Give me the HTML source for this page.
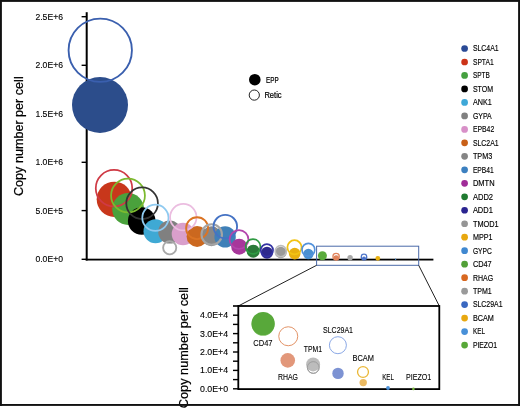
<!DOCTYPE html>
<html><head><meta charset="utf-8"><title>Copy number per cell</title>
<style>html,body{margin:0;padding:0;background:#fff;}svg{display:block;}text{font-family:"Liberation Sans", sans-serif;fill:#000;stroke:#000;stroke-width:0.22px;}</style>
</head><body>
<svg width="520" height="408" viewBox="0 0 520 408">
<rect x="0" y="0" width="520" height="408" fill="#fff"/>
<rect x="85.7" y="12.2" width="2" height="248.3" fill="#000"/>
<rect x="85.7" y="258.7" width="347.7" height="1.8" fill="#000"/>
<rect x="81.6" y="16.00" width="5" height="1.4" fill="#000"/>
<text x="35.40" y="19.70" font-size="9.20" text-anchor="start" textLength="27.6" lengthAdjust="spacingAndGlyphs" style="stroke-width:0.12px">2.5E+6</text>
<rect x="81.6" y="64.60" width="5" height="1.4" fill="#000"/>
<text x="35.40" y="68.30" font-size="9.20" text-anchor="start" textLength="27.6" lengthAdjust="spacingAndGlyphs" style="stroke-width:0.12px">2.0E+6</text>
<rect x="81.6" y="113.10" width="5" height="1.4" fill="#000"/>
<text x="35.40" y="116.80" font-size="9.20" text-anchor="start" textLength="27.6" lengthAdjust="spacingAndGlyphs" style="stroke-width:0.12px">1.5E+6</text>
<rect x="81.6" y="161.60" width="5" height="1.4" fill="#000"/>
<text x="35.40" y="165.30" font-size="9.20" text-anchor="start" textLength="27.6" lengthAdjust="spacingAndGlyphs" style="stroke-width:0.12px">1.0E+6</text>
<rect x="81.6" y="209.90" width="5" height="1.4" fill="#000"/>
<text x="35.40" y="213.60" font-size="9.20" text-anchor="start" textLength="27.6" lengthAdjust="spacingAndGlyphs" style="stroke-width:0.12px">5.0E+5</text>
<rect x="81.6" y="258.60" width="5" height="1.4" fill="#000"/>
<text x="35.40" y="262.30" font-size="9.20" text-anchor="start" textLength="27.6" lengthAdjust="spacingAndGlyphs" style="stroke-width:0.12px">0.0E+0</text>
<text transform="translate(22.8,196) rotate(-90)" font-size="12.9" textLength="119.7" lengthAdjust="spacingAndGlyphs">Copy number per cell</text>
<circle cx="100.00" cy="105.00" r="28.00" fill="#2c4d8b"/>
<circle cx="114.30" cy="199.30" r="17.60" fill="#c8371b"/>
<circle cx="128.10" cy="209.00" r="15.90" fill="#4aa13c"/>
<circle cx="141.70" cy="221.00" r="13.80" fill="#000000"/>
<circle cx="155.50" cy="231.20" r="12.00" fill="#3fa9d4"/>
<circle cx="169.70" cy="232.00" r="11.50" fill="#808080"/>
<circle cx="183.00" cy="234.00" r="11.30" fill="#d99fcb"/>
<circle cx="197.10" cy="236.40" r="10.50" fill="#cb681f"/>
<circle cx="211.50" cy="236.30" r="10.00" fill="#878787"/>
<circle cx="225.10" cy="236.90" r="10.70" fill="#3f80b8"/>
<circle cx="239.20" cy="246.70" r="8.00" fill="#a7379b"/>
<circle cx="253.20" cy="251.20" r="6.50" fill="#2a7a38"/>
<circle cx="267.00" cy="252.70" r="6.00" fill="#2e2a8c"/>
<circle cx="280.80" cy="252.50" r="5.80" fill="#9a9a9a"/>
<circle cx="294.70" cy="253.60" r="5.80" fill="#e8b010"/>
<circle cx="308.40" cy="254.00" r="5.20" fill="#4a90d0"/>
<circle cx="322.40" cy="255.70" r="4.50" fill="#5aaa3c"/>
<circle cx="336.20" cy="258.00" r="2.80" fill="#e0825a"/>
<circle cx="350.10" cy="257.70" r="2.70" fill="#a8a8a8"/>
<circle cx="364.00" cy="258.60" r="2.00" fill="#4a72c8"/>
<circle cx="377.80" cy="258.30" r="2.40" fill="#e8b010"/>
<circle cx="395.60" cy="259.20" r="0.70" fill="#4a90d8"/>
<circle cx="100.25" cy="50.25" r="31.68" fill="none" stroke="#3a5fae" stroke-width="1.85"/>
<circle cx="114.00" cy="188.20" r="18.23" fill="none" stroke="#cf3a45" stroke-width="1.75"/>
<circle cx="128.00" cy="195.50" r="16.93" fill="none" stroke="#7cba2f" stroke-width="1.75"/>
<circle cx="142.10" cy="203.20" r="15.82" fill="none" stroke="#333333" stroke-width="1.75"/>
<circle cx="155.40" cy="217.80" r="13.12" fill="none" stroke="#8fcaf0" stroke-width="1.75"/>
<circle cx="169.70" cy="247.80" r="6.58" fill="none" stroke="#a9a9a9" stroke-width="1.85"/>
<circle cx="183.30" cy="217.20" r="13.22" fill="none" stroke="#ebbde0" stroke-width="1.75"/>
<circle cx="197.10" cy="228.20" r="10.97" fill="none" stroke="#db7424" stroke-width="1.85"/>
<circle cx="211.70" cy="234.50" r="10.23" fill="none" stroke="#a5a5a5" stroke-width="2.15"/>
<circle cx="225.30" cy="226.60" r="11.77" fill="none" stroke="#4472c4" stroke-width="1.85"/>
<circle cx="239.00" cy="239.50" r="9.43" fill="none" stroke="#b345ac" stroke-width="1.75"/>
<circle cx="253.00" cy="246.50" r="7.43" fill="none" stroke="#2f9a42" stroke-width="1.75"/>
<circle cx="266.90" cy="250.30" r="6.17" fill="none" stroke="#3232a2" stroke-width="1.65"/>
<circle cx="280.80" cy="251.20" r="5.58" fill="none" stroke="#bdbdbd" stroke-width="1.65"/>
<circle cx="294.50" cy="247.30" r="7.12" fill="none" stroke="#f2c313" stroke-width="1.75"/>
<circle cx="308.40" cy="249.70" r="6.38" fill="none" stroke="#5292dc" stroke-width="1.65"/>
<circle cx="336.10" cy="256.50" r="3.17" fill="none" stroke="#e0825a" stroke-width="1.25"/>
<circle cx="364.00" cy="256.90" r="2.77" fill="none" stroke="#4a72c8" stroke-width="1.25"/>
<rect x="316.6" y="246.2" width="102.1" height="19.1" fill="none" stroke="#4a6aa8" stroke-width="1"/>
<line x1="316.6" y1="265.3" x2="238.3" y2="306" stroke="#222" stroke-width="1"/>
<line x1="418.7" y1="265.3" x2="439.3" y2="306" stroke="#222" stroke-width="1"/>
<circle cx="254.80" cy="79.70" r="5.80" fill="#000"/>
<circle cx="254.30" cy="95.10" r="5.10" fill="none" stroke="#222" stroke-width="1.00"/>
<text x="266.00" y="82.50" font-size="8.30" text-anchor="start" textLength="12.6" lengthAdjust="spacingAndGlyphs">EPP</text>
<text x="264.40" y="98.00" font-size="8.30" text-anchor="start" textLength="17.2" lengthAdjust="spacingAndGlyphs">Retic</text>
<rect x="238.3" y="306" width="201" height="83.1" fill="#fff" stroke="#000" stroke-width="1.8"/>
<rect x="233" y="305.2" width="6" height="1.6" fill="#000"/>
<rect x="233" y="314.50" width="5.5" height="1.4" fill="#000"/>
<rect x="233" y="323.70" width="5.5" height="1.4" fill="#000"/>
<text x="200.00" y="318.20" font-size="9.20" text-anchor="start" textLength="28.1" lengthAdjust="spacingAndGlyphs" style="stroke-width:0.12px">4.0E+4</text>
<rect x="233" y="332.90" width="5.5" height="1.4" fill="#000"/>
<rect x="233" y="342.10" width="5.5" height="1.4" fill="#000"/>
<text x="200.00" y="336.60" font-size="9.20" text-anchor="start" textLength="28.1" lengthAdjust="spacingAndGlyphs" style="stroke-width:0.12px">3.0E+4</text>
<rect x="233" y="351.30" width="5.5" height="1.4" fill="#000"/>
<rect x="233" y="360.50" width="5.5" height="1.4" fill="#000"/>
<text x="200.00" y="355.00" font-size="9.20" text-anchor="start" textLength="28.1" lengthAdjust="spacingAndGlyphs" style="stroke-width:0.12px">2.0E+4</text>
<rect x="233" y="369.70" width="5.5" height="1.4" fill="#000"/>
<rect x="233" y="378.90" width="5.5" height="1.4" fill="#000"/>
<text x="200.00" y="373.40" font-size="9.20" text-anchor="start" textLength="28.1" lengthAdjust="spacingAndGlyphs" style="stroke-width:0.12px">1.0E+4</text>
<rect x="233" y="388.10" width="5.5" height="1.4" fill="#000"/>
<text x="200.00" y="391.80" font-size="9.20" text-anchor="start" textLength="28.1" lengthAdjust="spacingAndGlyphs" style="stroke-width:0.12px">0.0E+0</text>
<text transform="translate(188.1,408.2) rotate(-90)" font-size="12.9" textLength="121" lengthAdjust="spacingAndGlyphs">Copy number per cell</text>
<circle cx="263.10" cy="324.30" r="11.50" fill="#7cc060"/>
<circle cx="263.10" cy="323.50" r="11.60" fill="#58a83a"/>
<circle cx="288.25" cy="336.25" r="9.50" fill="none" stroke="#e39468" stroke-width="1.00"/>
<circle cx="287.75" cy="360.40" r="7.30" fill="#e2977a"/>
<circle cx="313.25" cy="367.50" r="5.80" fill="none" stroke="#9a9a9a" stroke-width="1.00"/>
<circle cx="313.10" cy="364.40" r="7.00" fill="#b5b5b5" fill-opacity="0.9"/>
<circle cx="313.25" cy="367.50" r="5.90" fill="none" stroke="#9a9a9a" stroke-width="0.80"/>
<circle cx="337.90" cy="345.20" r="8.50" fill="none" stroke="#8aa8e6" stroke-width="1.00"/>
<circle cx="338.00" cy="373.40" r="5.70" fill="#7d93d3"/>
<circle cx="363.00" cy="372.00" r="5.45" fill="none" stroke="#eab736" stroke-width="1.30"/>
<circle cx="363.20" cy="382.60" r="3.70" fill="#ebba62"/>
<circle cx="388.00" cy="388.00" r="1.90" fill="#4a90d8"/>
<circle cx="413.40" cy="388.90" r="1.30" fill="#7ab840"/>
<text x="253.30" y="346.39" font-size="8.30" text-anchor="start" textLength="19.2" lengthAdjust="spacingAndGlyphs" style="stroke-width:0.1px">CD47</text>
<text x="278.00" y="379.89" font-size="8.30" text-anchor="start" textLength="20.0" lengthAdjust="spacingAndGlyphs" style="stroke-width:0.1px">RHAG</text>
<text x="303.80" y="352.39" font-size="8.30" text-anchor="start" textLength="18.2" lengthAdjust="spacingAndGlyphs" style="stroke-width:0.1px">TPM1</text>
<text x="323.00" y="332.59" font-size="8.30" text-anchor="start" textLength="30.0" lengthAdjust="spacingAndGlyphs" style="stroke-width:0.1px">SLC29A1</text>
<text x="352.50" y="361.09" font-size="8.30" text-anchor="start" textLength="21.5" lengthAdjust="spacingAndGlyphs" style="stroke-width:0.1px">BCAM</text>
<text x="382.20" y="379.79" font-size="8.30" text-anchor="start" textLength="11.8" lengthAdjust="spacingAndGlyphs" style="stroke-width:0.1px">KEL</text>
<text x="406.00" y="379.79" font-size="8.30" text-anchor="start" textLength="25.2" lengthAdjust="spacingAndGlyphs" style="stroke-width:0.1px">PIEZO1</text>
<circle cx="464.60" cy="48.50" r="3.35" fill="#2a4a96"/>
<text x="472.90" y="51.35" font-size="8.30" text-anchor="start" textLength="25.7" lengthAdjust="spacingAndGlyphs" style="stroke-width:0.15px">SLC4A1</text>
<circle cx="464.60" cy="61.98" r="3.35" fill="#cc3318"/>
<text x="472.90" y="64.83" font-size="8.30" text-anchor="start" textLength="20.8" lengthAdjust="spacingAndGlyphs" style="stroke-width:0.15px">SPTA1</text>
<circle cx="464.60" cy="75.46" r="3.35" fill="#45a040"/>
<text x="472.90" y="78.31" font-size="8.30" text-anchor="start" textLength="16.9" lengthAdjust="spacingAndGlyphs" style="stroke-width:0.15px">SPTB</text>
<circle cx="464.60" cy="88.94" r="3.35" fill="#000000"/>
<text x="472.90" y="91.79" font-size="8.30" text-anchor="start" textLength="20.2" lengthAdjust="spacingAndGlyphs" style="stroke-width:0.15px">STOM</text>
<circle cx="464.60" cy="102.42" r="3.35" fill="#3ea8d8"/>
<text x="472.90" y="105.27" font-size="8.30" text-anchor="start" textLength="18.8" lengthAdjust="spacingAndGlyphs" style="stroke-width:0.15px">ANK1</text>
<circle cx="464.60" cy="115.90" r="3.35" fill="#808080"/>
<text x="472.90" y="118.75" font-size="8.30" text-anchor="start" textLength="18.8" lengthAdjust="spacingAndGlyphs" style="stroke-width:0.15px">GYPA</text>
<circle cx="464.60" cy="129.38" r="3.35" fill="#d890c8"/>
<text x="472.90" y="132.23" font-size="8.30" text-anchor="start" textLength="21.3" lengthAdjust="spacingAndGlyphs" style="stroke-width:0.15px">EPB42</text>
<circle cx="464.60" cy="142.86" r="3.35" fill="#c86018"/>
<text x="472.90" y="145.71" font-size="8.30" text-anchor="start" textLength="25.7" lengthAdjust="spacingAndGlyphs" style="stroke-width:0.15px">SLC2A1</text>
<circle cx="464.60" cy="156.34" r="3.35" fill="#858585"/>
<text x="472.90" y="159.19" font-size="8.30" text-anchor="start" textLength="19.3" lengthAdjust="spacingAndGlyphs" style="stroke-width:0.15px">TPM3</text>
<circle cx="464.60" cy="169.82" r="3.35" fill="#3c80c0"/>
<text x="472.90" y="172.67" font-size="8.30" text-anchor="start" textLength="20.8" lengthAdjust="spacingAndGlyphs" style="stroke-width:0.15px">EPB41</text>
<circle cx="464.60" cy="183.30" r="3.35" fill="#a02c98"/>
<text x="472.90" y="186.15" font-size="8.30" text-anchor="start" textLength="21.7" lengthAdjust="spacingAndGlyphs" style="stroke-width:0.15px">DMTN</text>
<circle cx="464.60" cy="196.78" r="3.35" fill="#1f7a30"/>
<text x="472.90" y="199.63" font-size="8.30" text-anchor="start" textLength="20.2" lengthAdjust="spacingAndGlyphs" style="stroke-width:0.15px">ADD2</text>
<circle cx="464.60" cy="210.26" r="3.35" fill="#2a2490"/>
<text x="472.90" y="213.11" font-size="8.30" text-anchor="start" textLength="19.9" lengthAdjust="spacingAndGlyphs" style="stroke-width:0.15px">ADD1</text>
<circle cx="464.60" cy="223.74" r="3.35" fill="#959595"/>
<text x="472.90" y="226.59" font-size="8.30" text-anchor="start" textLength="25.7" lengthAdjust="spacingAndGlyphs" style="stroke-width:0.15px">TMOD1</text>
<circle cx="464.60" cy="237.22" r="3.35" fill="#e8a810"/>
<text x="472.90" y="240.07" font-size="8.30" text-anchor="start" textLength="19.6" lengthAdjust="spacingAndGlyphs" style="stroke-width:0.15px">MPP1</text>
<circle cx="464.60" cy="250.70" r="3.35" fill="#4088d0"/>
<text x="472.90" y="253.55" font-size="8.30" text-anchor="start" textLength="19.0" lengthAdjust="spacingAndGlyphs" style="stroke-width:0.15px">GYPC</text>
<circle cx="464.60" cy="264.18" r="3.35" fill="#52a038"/>
<text x="472.90" y="267.03" font-size="8.30" text-anchor="start" textLength="18.8" lengthAdjust="spacingAndGlyphs" style="stroke-width:0.15px">CD47</text>
<circle cx="464.60" cy="277.66" r="3.35" fill="#d86820"/>
<text x="472.90" y="280.51" font-size="8.30" text-anchor="start" textLength="20.2" lengthAdjust="spacingAndGlyphs" style="stroke-width:0.15px">RHAG</text>
<circle cx="464.60" cy="291.14" r="3.35" fill="#9a9a9a"/>
<text x="472.90" y="293.99" font-size="8.30" text-anchor="start" textLength="18.8" lengthAdjust="spacingAndGlyphs" style="stroke-width:0.15px">TPM1</text>
<circle cx="464.60" cy="304.62" r="3.35" fill="#3a68c0"/>
<text x="472.90" y="307.47" font-size="8.30" text-anchor="start" textLength="29.6" lengthAdjust="spacingAndGlyphs" style="stroke-width:0.15px">SLC29A1</text>
<circle cx="464.60" cy="318.10" r="3.35" fill="#e8a810"/>
<text x="472.90" y="320.95" font-size="8.30" text-anchor="start" textLength="21.0" lengthAdjust="spacingAndGlyphs" style="stroke-width:0.15px">BCAM</text>
<circle cx="464.60" cy="331.58" r="3.35" fill="#4890d8"/>
<text x="472.90" y="334.43" font-size="8.30" text-anchor="start" textLength="12.1" lengthAdjust="spacingAndGlyphs" style="stroke-width:0.15px">KEL</text>
<circle cx="464.60" cy="345.06" r="3.35" fill="#58a838"/>
<text x="472.90" y="347.91" font-size="8.30" text-anchor="start" textLength="24.2" lengthAdjust="spacingAndGlyphs" style="stroke-width:0.15px">PIEZO1</text>
<rect x="0" y="0" width="520" height="1.9" fill="#111"/>
<rect x="0" y="0" width="1.9" height="406" fill="#111"/>
<rect x="518.1" y="0" width="1.9" height="406" fill="#111"/>
<rect x="0" y="404" width="520" height="1.9" fill="#111"/>
</svg></body></html>
